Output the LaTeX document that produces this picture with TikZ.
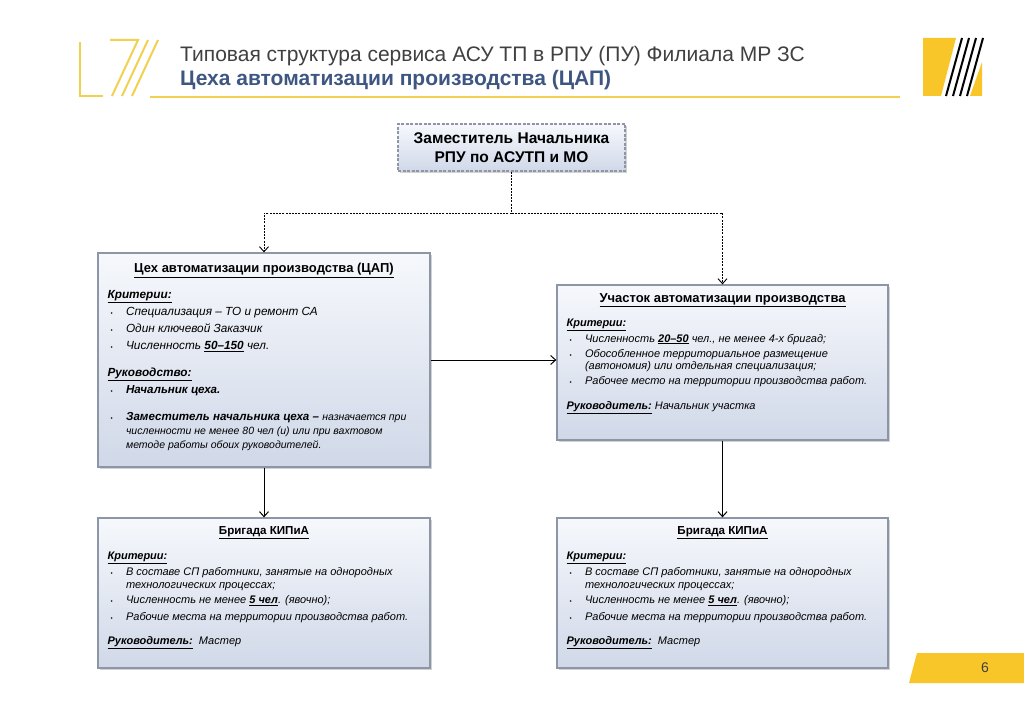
\documentclass[tikz,border=0pt]{standalone}
\usepackage{fontspec}
\setmainfont{Liberation Sans}
\usepackage{xcolor}
\usetikzlibrary{positioning,shadows,arrows.meta}

\definecolor{logoline}{RGB}{242,208,80}
\definecolor{logoyel}{RGB}{248,198,40}
\definecolor{ttlgray}{RGB}{64,64,64}
\definecolor{subblue}{RGB}{62,86,130}
\definecolor{boxtop}{RGB}{246,248,252}
\definecolor{boxbot}{RGB}{208,216,232}
\definecolor{boxedge}{RGB}{140,150,166}

\newcommand{\bl}{\makebox[18.5pt][l]{\hspace{3pt}{\fontsize{6}{6}\selectfont\textbullet}}}
\newcommand{\hd}[1]{\textbf{\textit{\underline{#1}}}}
\newcommand{\brigtext}{%
\hd{Критерии:}\\[1pt]
\bl В составе СП работники, занятые на однородных\\[-3pt]
\hspace*{18.5pt}технологических процессах;\\
\bl Численность не менее \textbf{\underline{5 чел}}. (явочно);\\[1pt]
\bl Рабочие места на территории производства работ.\\[9pt]
\hd{Руководитель:}\ \ Мастер}

\tikzset{
  box/.style={draw=boxedge, line width=1.3pt, top color=boxtop, bottom color=boxbot,
    drop shadow={shadow xshift=2pt, shadow yshift=-2pt, opacity=0.35}, inner sep=0pt},
  dashbox/.style={box, dash pattern=on 3pt off 1.5pt, line width=1.2pt},
  boxtitle/.style={font=\fontsize{13}{15}\selectfont\bfseries, inner sep=0pt},
  bodytxt/.style={font=\fontsize{11.8}{17}\selectfont\itshape, align=left, inner sep=0pt},
  conn/.style={line width=1pt, -{Straight Barb[length=5pt,width=9pt]}},
  dotconn/.style={line width=0.9pt, dash pattern=on 2pt off 1.2pt},
  logostroke/.style={draw=logoline, line width=2pt}
}

\begin{document}
\begin{tikzpicture}[x=1pt,y=-1pt]
\useasboundingbox (0,0) rectangle (1024,708);
\fill[white] (0,0) rectangle (1024,708);

\draw[logostroke] (80,42) -- (80,96) -- (103,96);
\draw[logostroke] (110,40) -- (138,40) -- (112,96);
\draw[logostroke] (148,40) -- (122,96);
\draw[logostroke] (158,40) -- (132,96);
\draw[logostroke] (150,97) -- (900,97);

\fill[logoyel] (923,38) -- (956,38) -- (941,96) -- (923,96) -- cycle;
\foreach \i in {0,1,2,3}
  \draw[line width=2pt] (962+7*\i,38) -- (946+7*\i,96);
\fill[logoyel] (970,96) -- (982,96) -- (982,62) -- cycle;

\node[anchor=base west, inner sep=0pt, text=ttlgray, font=\fontsize{21}{24}\selectfont] (ttl)
  at (180,62) {Типовая структура сервиса АСУ ТП в РПУ (ПУ) Филиала МР ЗС};
\node[anchor=base west, inner sep=0pt, text=subblue, font=\fontsize{21}{24}\selectfont\bfseries] (subttl)
  at (180,86) {Цеха автоматизации производства (ЦАП)};

\node[dashbox, minimum width=227pt, minimum height=47pt, align=center,
  font=\fontsize{15.5}{19}\selectfont\bfseries] (zam) at (511.5,147.5)
  {Заместитель Начальника\\РПУ по АСУТП и МО};

\node[box, minimum width=332pt, minimum height=214pt] (cap) at (264,360) {};
\node[box, minimum width=331pt, minimum height=155pt] (uch) at (722.5,362.5) {};
\node[box, minimum width=332pt, minimum height=150pt] (brigL) at (264,593) {};
\node[box, minimum width=331pt, minimum height=150pt] (brigR) at (722.5,593) {};

\node[boxtitle, below=11pt of cap.north] (capT) {\underline{Цех автоматизации производства (ЦАП)}};
\node[bodytxt, anchor=north west] (capB) at ([shift={(10,38)}]cap.north west) {%
\hd{Критерии:}\\
\bl Специализация – ТО и ремонт СА\\
\bl Один ключевой Заказчик\\
\bl Численность \textbf{\underline{50–150}} чел.\\[10pt]
\hd{Руководство:}\\
\bl {\fontsize{11.6}{13}\selectfont\bfseries Начальник цеха.}\\[10pt]
\bl {\fontsize{11.6}{13}\selectfont\bfseries Заместитель начальника цеха –} {\fontsize{10.5}{12}\selectfont назначается при}\\[-3pt]
\hspace*{18.5pt}{\fontsize{10.5}{12}\selectfont численности не менее 80 чел (и) или при вахтовом}\\[-3pt]
\hspace*{18.5pt}{\fontsize{10.5}{12}\selectfont методе работы обоих руководителей.}};

\node[boxtitle, below=9pt of uch.north] (uchT) {\underline{Участок автоматизации производства}};
\node[bodytxt, font=\fontsize{11}{15}\selectfont\itshape, anchor=north west] (uchB)
  at ([shift={(10,34)}]uch.north west) {%
\hd{Критерии:}\\[1pt]
\bl Численность \textbf{\underline{20–50}} чел., не менее 4-х бригад;\\
\bl Обособленное территориальное размещение\\[-3pt]
\hspace*{18.5pt}(автономия) или отдельная специализация;\\
\bl Рабочее место на территории производства работ.\\[10pt]
\hd{Руководитель:} Начальник участка};

\node[boxtitle, font=\fontsize{11.6}{14}\selectfont\bfseries, below=9pt of brigL.north] (brigLT) {\underline{Бригада КИПиА}};
\node[bodytxt, font=\fontsize{11}{15.5}\selectfont\itshape, anchor=north west] (brigLB)
  at ([shift={(10,34)}]brigL.north west) {\brigtext};
\node[boxtitle, font=\fontsize{11.6}{14}\selectfont\bfseries, below=9pt of brigR.north] (brigRT) {\underline{Бригада КИПиА}};
\node[bodytxt, font=\fontsize{11}{15.5}\selectfont\itshape, anchor=north west] (brigRB)
  at ([shift={(10,34)}]brigR.north west) {\brigtext};

\coordinate (fork) at (511.5,213);
\draw[dotconn] (zam.south) -- (fork);
\draw[dotconn, -{Straight Barb[length=5pt,width=9pt]}] (fork) -| (cap.north);
\draw[dotconn, -{Straight Barb[length=5pt,width=9pt]}] (fork) -| (uch.north);
\draw[conn] (cap.east) -- (cap.east -| uch.west);
\draw[conn] (cap.south) -- (brigL.north);
\draw[conn] (uch.south) -- (brigR.north);

\fill[logoyel] (917,653) -- (1024,653) -- (1024,683) -- (909,683) -- cycle;
\node[font=\fontsize{14}{16}\selectfont, text=ttlgray, inner sep=0pt] (pgnum) at (985,668) {6};
\end{tikzpicture}
\end{document}
